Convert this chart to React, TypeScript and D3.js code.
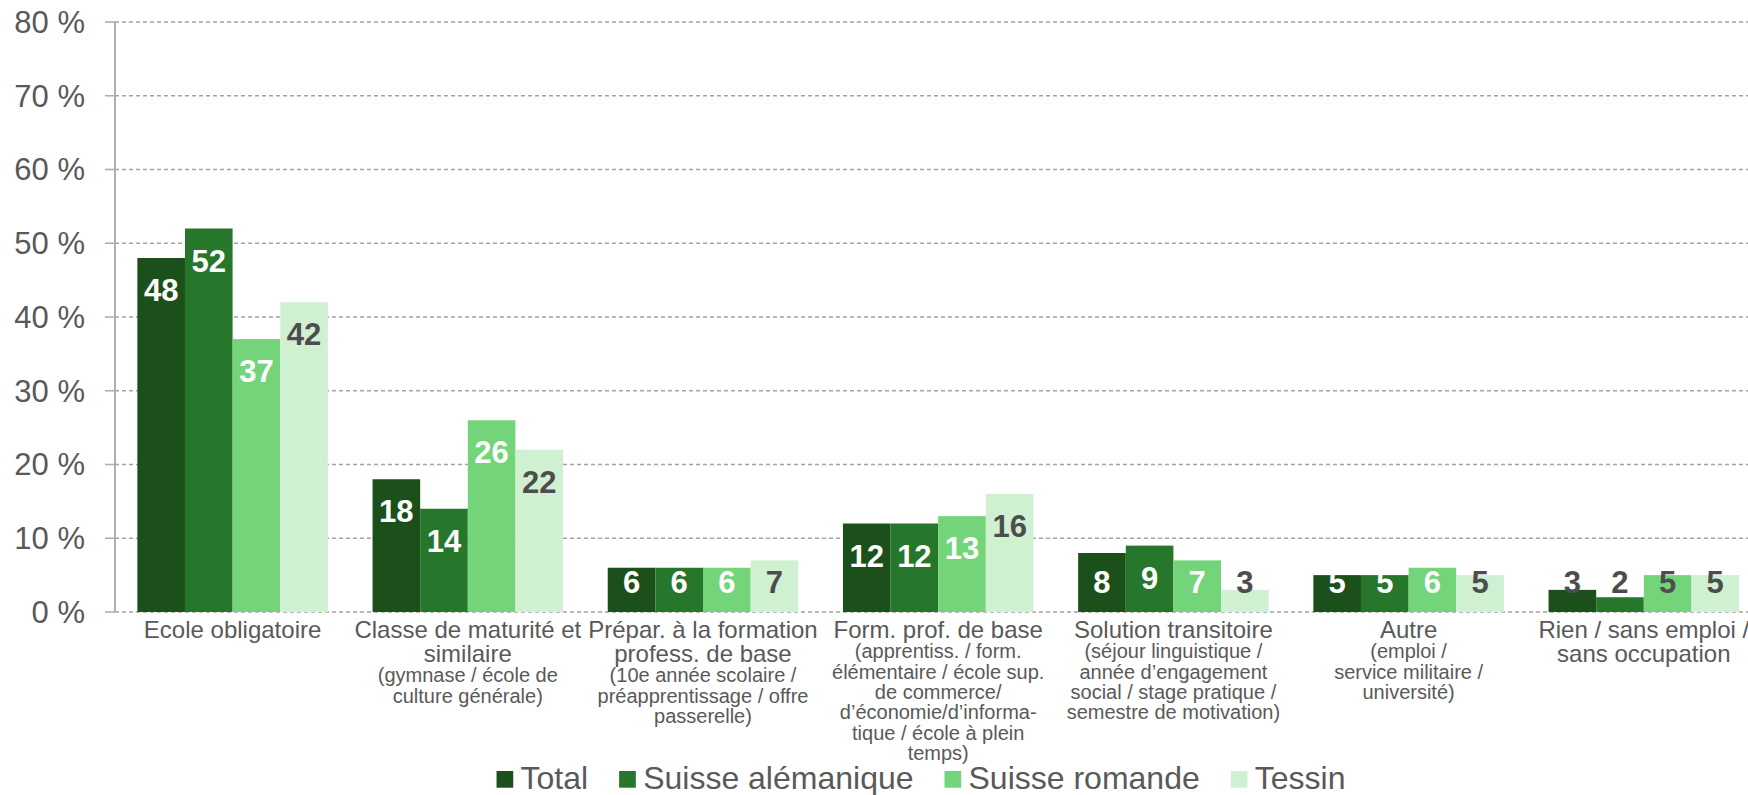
import React, { useEffect, useRef } from 'react';
import * as d3 from 'd3';

const categories = [
  'Ecole obligatoire',
  'Classe de maturité',
  'Prépar. formation',
  'Form. prof. de base',
  'Solution transitoire',
  'Autre',
  'Rien',
];
const titleLines = [
  ['Ecole obligatoire'],
  ['Classe de maturité et', 'similaire'],
  ['Prépar. à la formation', 'profess. de base'],
  ['Form. prof. de base'],
  ['Solution transitoire'],
  ['Autre'],
  ['Rien / sans emploi /', 'sans occupation'],
];
const subLines = [
  [],
  ['(gymnase / école de', 'culture générale)'],
  ['(10e année scolaire /', 'préapprentissage / offre', 'passerelle)'],
  ['(apprentiss. / form.', 'élémentaire / école sup.', 'de commerce/', 'd’économie/d’informa-', 'tique / école à plein', 'temps)'],
  ['(séjour linguistique /', 'année d’engagement', 'social / stage pratique /', 'semestre de motivation)'],
  ['(emploi /', 'service militaire /', 'université)'],
  [],
];

const seriesNames = ['Total', 'Suisse alémanique', 'Suisse romande', 'Tessin'];
const total = [48, 18, 6, 12, 8, 5, 3];
const alemanique = [52, 14, 6, 12, 9, 5, 2];
const romande = [37, 26, 6, 13, 7, 6, 5];
const tessin = [42, 22, 7, 16, 3, 5, 5];
const yTicks = [0, 10, 20, 30, 40, 50, 60, 70, 80];

const colors = ['#1b501b', '#26762b', '#74d47a', '#d0f0d2'];
const FONT = '"Liberation Sans", Arial, sans-serif';
const TEXT = '#595959';
const DARK = '#4d4d4d';

const W = 1748;
const H = 795;

const Chart = () => {
  const ref = useRef<SVGSVGElement>(null);

  useEffect(() => {
    const svg = d3.select(ref.current);
    svg.selectAll('*').remove();

    const values = [total, alemanique, romande, tessin];
    const left = 115;
    const step = 235.2;

    const x = d3
      .scaleBand()
      .domain(categories)
      .range([left, left + step * categories.length])
      .paddingInner(0.19)
      .paddingOuter(0.095);
    const x1 = d3.scaleBand().domain(seriesNames).range([0, x.bandwidth()]);
    const y = d3.scaleLinear().domain([0, 80]).range([612, 22]);

    // grid + ticks
    const g = svg.append('g');
    g.selectAll('line.grid')
      .data(yTicks)
      .enter()
      .append('line')
      .attr('x1', left)
      .attr('x2', W)
      .attr('y1', (d) => y(d))
      .attr('y2', (d) => y(d))
      .attr('stroke', '#a3a3a3')
      .attr('stroke-width', 1.4)
      .attr('stroke-dasharray', '4,3');
    g.selectAll('line.tick')
      .data(yTicks)
      .enter()
      .append('line')
      .attr('x1', left - 10)
      .attr('x2', left)
      .attr('y1', (d) => y(d))
      .attr('y2', (d) => y(d))
      .attr('stroke', '#b0b0a8')
      .attr('stroke-width', 1.6);
    g.selectAll('text.ytick')
      .data(yTicks)
      .enter()
      .append('text')
      .attr('x', 85)
      .attr('y', (d) => y(d))
      .attr('dy', '0.35em')
      .attr('text-anchor', 'end')
      .attr('font-family', FONT)
      .attr('font-size', 31)
      .attr('fill', TEXT)
      .text((d) => `${d} %`);

    // bars
    const groups = svg
      .selectAll('g.cat')
      .data(categories)
      .enter()
      .append('g')
      .attr('transform', (d) => `translate(${x(d)},0)`);

    groups.each(function (cat, ci) {
      const grp = d3.select(this);
      const rows = seriesNames.map((s, si) => ({ s, si, v: values[si][ci] }));
      grp
        .selectAll('rect')
        .data(rows)
        .enter()
        .append('rect')
        .attr('x', (d) => x1(d.s)!)
        .attr('width', x1.bandwidth())
        .attr('y', (d) => y(d.v))
        .attr('height', (d) => y(0) - y(d.v))
        .attr('fill', (d) => colors[d.si]);
      grp
        .selectAll('text')
        .data(rows)
        .enter()
        .append('text')
        .attr('x', (d) => x1(d.s)! + x1.bandwidth() / 2)
        .attr('y', (d) => Math.min(y(d.v) + 43, y(0) - 19))
        .attr('text-anchor', 'middle')
        .attr('font-family', FONT)
        .attr('font-weight', 'bold')
        .attr('font-size', 31)
        .attr('fill', (d) => (d.si === 3 || ci === categories.length - 1 ? DARK : '#ffffff'))
        .text((d) => d.v);
    });

    // axis line
    svg
      .append('line')
      .attr('x1', left)
      .attr('x2', left)
      .attr('y1', y(80))
      .attr('y2', y(0))
      .attr('stroke', '#b0b0a8')
      .attr('stroke-width', 2);

    // category labels
    categories.forEach((cat, ci) => {
      const cx = x(cat)! + x.bandwidth() / 2;
      const t = svg
        .append('text')
        .attr('text-anchor', 'middle')
        .attr('font-family', FONT)
        .attr('fill', TEXT);
      let yy = 638;
      titleLines[ci].forEach((line, li) => {
        if (li > 0) yy += 24;
        t.append('tspan').attr('x', cx).attr('y', yy).attr('font-size', 24).text(line);
      });
      subLines[ci].forEach((line) => {
        yy += 20.3;
        t.append('tspan').attr('x', cx).attr('y', yy).attr('font-size', 20).text(line);
      });
    });

    // legend
    const leg = svg.append('g');
    const items = seriesNames.map((s, i) => {
      const it = leg.append('g');
      it.append('rect').attr('width', 16.7).attr('height', 16.7).attr('y', 771).attr('fill', colors[i]);
      const tx = it
        .append('text')
        .attr('x', 24)
        .attr('y', 789)
        .attr('font-family', FONT)
        .attr('font-size', 32)
        .attr('fill', TEXT)
        .text(s);
      const w = 24 + (tx.node() as SVGTextElement).getComputedTextLength();
      return { it, w };
    });
    const gap = 31;
    const totalW = d3.sum(items, (d) => d.w) + gap * (items.length - 1);
    let lx = 921 - totalW / 2;
    items.forEach(({ it, w }) => {
      it.attr('transform', `translate(${lx},0)`);
      lx += w + gap;
    });
  }, []);

  return <svg ref={ref} width={W} height={H} style={{ display: 'block' }} />;
};

export default function App() {
  useEffect(() => {
    document.body.style.margin = '0';
  }, []);
  return <Chart />;
}
